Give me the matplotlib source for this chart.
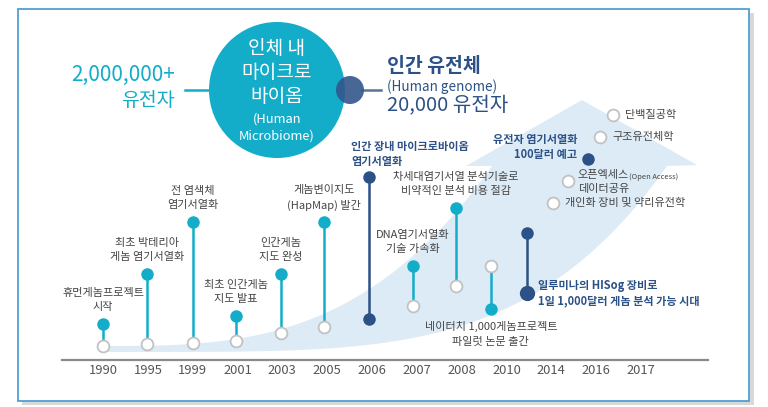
import matplotlib
matplotlib.use('Agg')
import matplotlib.pyplot as plt
from matplotlib.patches import Circle, Rectangle, Polygon
import numpy as np

plt.rcParams['font.family'] = ['Noto Sans CJK KR', 'DejaVu Sans']

# ---------------- data ----------------
years = ['1990', '1995', '1999', '2001', '2003', '2005', '2006',
         '2007', '2008', '2010', '2014', '2016', '2017']

# milestone lollipops (x = position on the year axis, y = height above baseline)
event_x = [0.0, 0.98, 2.0, 2.97, 3.97, 4.93, 5.94, 6.91, 7.87, 8.65, 9.45]
event_low = [14, 16, 17, 19, 27, 33, 41, 54, 74, 51, 67]
event_high = [36, 86, 138, 44, 86, 138, 183, 94, 152, 94, 127]
event_kind = ['teal', 'teal', 'teal', 'teal', 'teal', 'teal', 'navy',
              'teal', 'teal', 'teal', 'navy']
event_filled = ['high', 'high', 'high', 'high', 'high', 'high', 'both',
                'high', 'high', 'low', 'both']
event_labels = ['휴먼게놈프로젝트\n시작',
                '최초 박테리아\n게놈 염기서열화',
                '전 염색체\n염기서열화',
                '최초 인간게놈\n지도 발표',
                '인간게놈\n지도 완성',
                '게놈변이지도\n(HapMap) 발간',
                '인간 장내 마이크로바이옴\n염기서열화',
                'DNA염기서열화\n기술 가속화',
                '차세대염기서열 분석기술로\n비약적인 분석 비용 절감',
                '네이터치 1,000게놈프로젝트\n파일럿 논문 출간',
                '일루미나의 HISog 장비로\n1일 1,000달러 게놈 분석 가능 시대']

# outlook items near the arrow head
future_x = [11.38, 11.09, 10.82, 10.37, 10.04]
future_y = [245, 223, 201, 179, 157]
future_kind = ['hollow', 'hollow', 'navy', 'hollow', 'hollow']
future_labels = ['단백질공학', '구조유전체학', '유전자 염기서열화\n100달러 예고',
                 '오픈엑세스\n데이터공유', '개인화 장비 및 약리유전학']

microbiome_title = ['인체 내', '마이크로', '바이옴']
microbiome_en = ['(Human', 'Microbiome)']
microbiome_genes = ['2,000,000+', '유전자']
genome_title = '인간 유전체'
genome_en = '(Human genome)'
genome_genes = '20,000 유전자'

# ---------------- styles ----------------
TEAL = '#13adc9'
NAVY = '#2c5186'
HOLLOW_EDGE = '#c2c2c2'
TXT = '#444444'
BAND = '#dcebf6'
FS = 8.0
LS = 1.55
LSB = 1.2

fig = plt.figure(figsize=(7.68, 4.07), dpi=100)

# background / decoration layer in pixel coordinates
bg = fig.add_axes([0, 0, 1, 1])
bg.set_xlim(0, 768)
bg.set_ylim(407, 0)
bg.axis('off')

bg.add_patch(Rectangle((22, 13), 732, 392, facecolor='#d9d9d9', edgecolor='none', zorder=0))
bg.add_patch(Rectangle((18, 9), 731, 392, facecolor='white', edgecolor='#4f9fd2', lw=1.3, zorder=0.5))

# curved arrow band
xu = np.linspace(100, 492, 80)
yu = 346 - 180 * ((xu - 100) / 392.0) ** 3.07
xl = np.linspace(667, 100, 80)
yl = 352 - 186 * ((xl - 100) / 567.0) ** 4.35
head = [(492, 166), (466, 166), (582, 100), (697, 165), (667, 166)]
pts = list(zip(xu, yu)) + head + list(zip(xl, yl))
bg.add_patch(Polygon(pts, closed=True, facecolor=BAND, edgecolor='none', zorder=1))

# header circles
bg.plot([185, 212], [90, 90], color=TEAL, lw=1.8, zorder=2)
bg.plot([362, 381], [90, 90], color='#5a7399', lw=1.8, zorder=2)
bg.add_patch(Circle((277, 90), 68, facecolor=TEAL, edgecolor='none', zorder=3))
bg.add_patch(Circle((350, 90), 14, facecolor='#33578c', edgecolor='none', alpha=0.9, zorder=4))

for t, yy in zip(microbiome_title, [49, 73, 97]):
    bg.text(277, yy, t, color='white', fontsize=13.8, fontweight='medium',
            ha='center', va='center', zorder=5)
for t, yy in zip(microbiome_en, [119, 136]):
    bg.text(277, yy, t, color='white', fontsize=9.3, ha='center', va='center', zorder=5)
bg.text(175, 75, microbiome_genes[0], color=TEAL, fontsize=15, fontweight='medium',
        ha='right', va='center', zorder=5)
bg.text(175, 100, microbiome_genes[1], color=TEAL, fontsize=14, fontweight='medium',
        ha='right', va='center', zorder=5)
bg.text(387, 67, genome_title, color=NAVY, fontsize=14, fontweight='bold', ha='left', va='center')
bg.text(387, 87, genome_en, color=NAVY, fontsize=9.7, ha='left', va='center')
bg.text(387, 106, genome_genes, color=NAVY, fontsize=14.5, fontweight='medium', ha='left', va='center')

# ---------------- data axes ----------------
ax = fig.add_axes([62 / 768, 47 / 407, 646 / 768, 350 / 407])
ax.set_xlim(-0.9145, 13.494)
ax.set_ylim(0, 350)
ax.patch.set_alpha(0)
for s in ['top', 'right', 'left']:
    ax.spines[s].set_visible(False)
ax.spines['bottom'].set_color('#8a8a8a')
ax.spines['bottom'].set_linewidth(1.6)
ax.set_yticks([])
ax.set_xticks(range(len(years)))
ax.set_xticklabels(years, fontsize=9.3, color='#555555')
ax.tick_params(axis='x', length=0, pad=3)


def dot(x, y, kind, size=9):
    if kind == 'hollow':
        ax.plot(x, y, 'o', ms=8.5, mfc='white', mec=HOLLOW_EDGE, mew=1.3, zorder=4)
    else:
        c = TEAL if kind == 'teal' else NAVY
        ax.plot(x, y, 'o', ms=size, mfc=c, mec=c, mew=0, zorder=4)


for i, x in enumerate(event_x):
    col = TEAL if event_kind[i] == 'teal' else NAVY
    lo, hi = event_low[i], event_high[i]
    ax.plot([x, x], [lo, hi], color=col, lw=1.8, zorder=3, solid_capstyle='butt')
    f = event_filled[i]
    dot(x, hi, event_kind[i] if f in ('high', 'both') else 'hollow')
    big = 11 if (f == 'both' and i == len(event_x) - 1) else 9
    dot(x, lo, event_kind[i] if f in ('low', 'both') else 'hollow', size=big)

    lab = event_labels[i]
    if event_kind[i] == 'navy' and f == 'both' and i == 6:
        ax.annotate(lab, (x, hi), xytext=(-18, 23), textcoords='offset pixels',
                    ha='left', va='center', fontsize=FS, color=NAVY, fontweight='bold',
                    linespacing=LSB)
    elif i == len(event_x) - 1:
        ax.annotate(lab, (x, lo), xytext=(11, 0), textcoords='offset pixels',
                    ha='left', va='center', fontsize=FS, color=NAVY, fontweight='bold',
                    linespacing=LSB)
    elif f == 'low':
        ax.annotate(lab, (x, lo), xytext=(0, -25), textcoords='offset pixels',
                    ha='center', va='center', fontsize=FS, color=TXT, linespacing=LS)
    else:
        ax.annotate(lab, (x, hi), xytext=(0, 24), textcoords='offset pixels',
                    ha='center', va='center', fontsize=FS, color=TXT, linespacing=LS)

for i, x in enumerate(future_x):
    y = future_y[i]
    k = future_kind[i]
    dot(x, y, k)
    lab = future_labels[i]
    if k == 'navy':
        ax.annotate(lab, (x, y), xytext=(-11, 12), textcoords='offset pixels',
                    ha='right', va='center', multialignment='right', fontsize=FS,
                    color=NAVY, fontweight='bold', linespacing=LSB)
    elif '\n' in lab:
        l1, l2 = lab.split('\n')
        t1 = ax.annotate(l1, (x, y), xytext=(10, 6), textcoords='offset pixels',
                         ha='left', va='center', fontsize=FS, color=TXT)
        ax.annotate(l2, (x, y), xytext=(10, -8), textcoords='offset pixels',
                    ha='left', va='center', fontsize=FS, color=TXT)
        ax.annotate('(Open Access)', xy=(1, 0.3), xycoords=t1, ha='left', va='center',
                    fontsize=5.4, color=TXT)
    else:
        ax.annotate(lab, (x, y), xytext=(12, 0), textcoords='offset pixels',
                    ha='left', va='center', fontsize=FS, color=TXT)

fig.savefig('out.png', dpi=100)
